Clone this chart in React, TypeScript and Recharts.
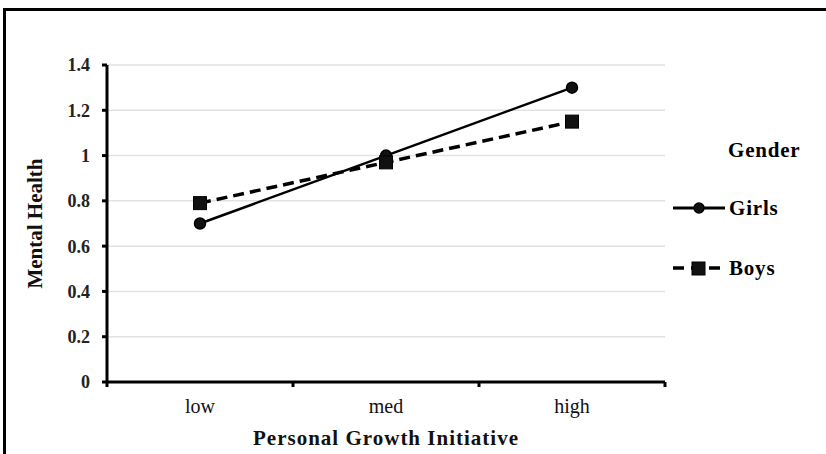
import { LineChart, Line, XAxis, YAxis, CartesianGrid, Label } from 'recharts'

const categories = ['low', 'med', 'high']
const girls = [0.7, 1.0, 1.3]
const boys = [0.79, 0.97, 1.15]
const yTicks = [0, 0.2, 0.4, 0.6, 0.8, 1, 1.2, 1.4]
const bandEdges = [0, 1, 2, 3]
const bandCenters = [0.5, 1.5, 2.5]

const data = categories.map((c, i) => ({ x: i + 0.5, cat: c, girls: girls[i], boys: boys[i] }))

const serif = '"Liberation Serif", "DejaVu Serif", serif'

function SquareDot(props: any) {
  const { cx, cy, index } = props
  return <rect key={`sq-${index}`} x={cx - 6.5} y={cy - 6.5} width={13} height={13} fill="#111" stroke="#000" strokeWidth={1} />
}

function CircleDot(props: any) {
  const { cx, cy, index } = props
  return <circle key={`ci-${index}`} cx={cx} cy={cy} r={5.5} fill="#111" stroke="#000" strokeWidth={1.5} />
}

// drawn beside the plot, like the Excel legend box
function GenderLegend() {
  const text = { fontFamily: serif, fontWeight: 700, fontSize: 21, color: '#000', letterSpacing: 0.8 }
  const row = { position: 'absolute' as const, left: 0, display: 'flex', alignItems: 'center', height: 30 }
  return (
    <div style={{ position: 'absolute', left: 666, top: 120, width: 150, height: 175, background: '#fff' }}>
      <div style={{ ...text, position: 'absolute', left: 62, top: 18 }}>Gender</div>
      <div style={{ ...row, top: 73 }}>
        <svg width={63} height={20}>
          <line x1={7} y1={10} x2={59} y2={10} stroke="#000" strokeWidth={3} />
          <circle cx={33} cy={10} r={5} fill="#111" stroke="#000" strokeWidth={1.5} />
        </svg>
        <span style={text}>Girls</span>
      </div>
      <div style={{ ...row, top: 133 }}>
        <svg width={63} height={20}>
          <line x1={7} y1={10} x2={59} y2={10} stroke="#000" strokeWidth={3.5} strokeDasharray="11 7" />
          <rect x={26} y={4} width={13} height={13} fill="#111" stroke="#000" />
        </svg>
        <span style={text}>Boys</span>
      </div>
    </div>
  )
}

export default function App() {
  return (
    <div style={{ position: 'absolute', left: 0, top: 0, width: 826, height: 454, overflow: 'hidden', background: '#fff' }}>
      <div style={{ position: 'absolute', left: 3, top: 8, width: 840, height: 470, border: '3px solid #000' }} />
      <LineChart width={826} height={454} data={data} margin={{ top: 65, right: 161, left: 0, bottom: 0 }}>
        <CartesianGrid horizontal vertical={false} stroke="#e2e2e2" strokeWidth={1.5} xAxisId="a0" />
        <XAxis
          xAxisId="a0"
          dataKey="x"
          type="number"
          domain={[0, 3]}
          ticks={bandEdges}
          tickFormatter={() => ''}
          height={6}
          tickSize={5}
          axisLine={{ stroke: '#000', strokeWidth: 3 }}
          tickLine={{ stroke: '#000', strokeWidth: 3 }}
        />
        <XAxis
          xAxisId="a1"
          dataKey="x"
          type="number"
          domain={[0, 3]}
          ticks={bandCenters}
          tickFormatter={(v: number) => categories[Math.floor(v)]}
          height={66}
          axisLine={false}
          tickLine={false}
          tickSize={0}
          tickMargin={11}
          tick={{ fontFamily: serif, fontSize: 20, fill: '#111' }}
        >
          <Label value="Personal Growth Initiative" position="insideBottom" offset={9}
            style={{ fontFamily: serif, fontSize: 21, fontWeight: 700, fill: '#111', letterSpacing: 1 }} />
        </XAxis>
        <YAxis
          domain={[0, 1.4]}
          ticks={yTicks}
          width={107}
          tickSize={5}
          tickMargin={12}
          interval={0}
          axisLine={{ stroke: '#000', strokeWidth: 3 }}
          tickLine={{ stroke: '#000', strokeWidth: 3 }}
          tick={{ fontFamily: serif, fontSize: 18, fontWeight: 700, fill: '#222' }}
        >
          <Label value="Mental Health" angle={-90} position="insideLeft" offset={35}
            style={{ fontFamily: serif, fontSize: 21, fontWeight: 700, fill: '#111', textAnchor: 'middle' }} />
        </YAxis>
        <Line xAxisId="a0" type="linear" dataKey="girls" name="Girls" stroke="#000" strokeWidth={2.5}
          dot={CircleDot} activeDot={false} isAnimationActive={false} />
        <Line xAxisId="a0" type="linear" dataKey="boys" name="Boys" stroke="#000" strokeWidth={3.5}
          strokeDasharray="11 6" dot={SquareDot} activeDot={false} isAnimationActive={false} />
      </LineChart>
      <GenderLegend />
    </div>
  )
}
